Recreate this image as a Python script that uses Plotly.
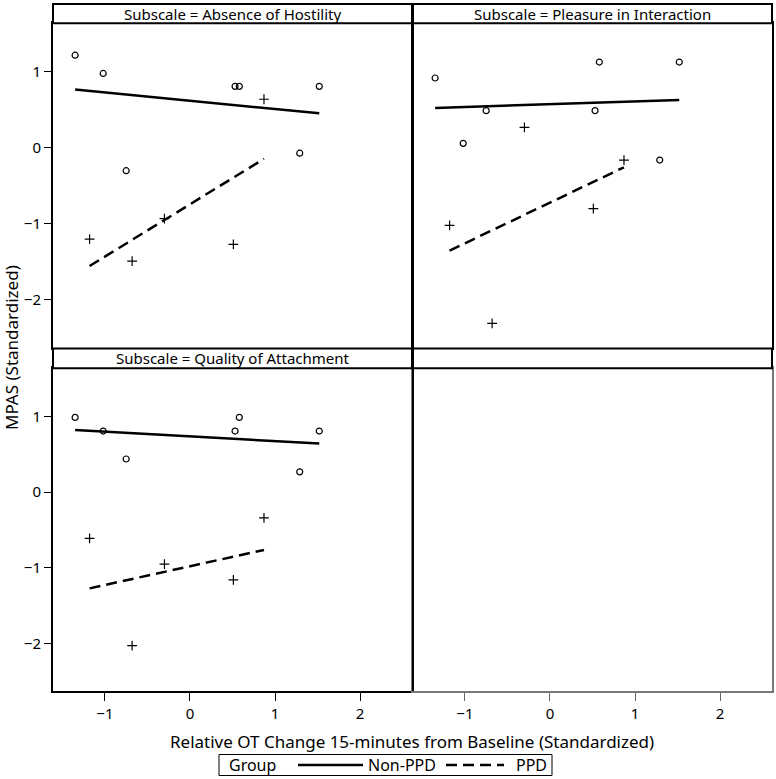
import numpy as np
import plotly.graph_objects as go

# ---------------- data ----------------
subscales = ["Absence of Hostility", "Pleasure in Interaction", "Quality of Attachment"]
groups = ["Non-PPD", "PPD"]

nonppd_x = [-1.35, -1.02, -0.75, 0.53, 0.58, 1.29, 1.52]
ppd_x = [-1.18, -0.68, -0.30, 0.51, 0.87]

nonppd_hostility = [1.22, 0.98, -0.30, 0.81, 0.81, -0.07, 0.81]
ppd_hostility = [-1.20, -1.49, -0.93, -1.27, 0.64]

nonppd_pleasure = [0.92, 0.06, 0.49, 0.49, 1.13, -0.16, 1.13]
ppd_pleasure = [-1.02, -2.31, 0.27, -0.80, -0.16]

nonppd_attach = [0.99, 0.81, 0.44, 0.81, 0.99, 0.27, 0.81]
ppd_attach = [-0.61, -2.03, -0.95, -1.16, -0.34]

y_ticks = [-2, -1, 0, 1]
x_ticks = [-1, 0, 1, 2]

W, H = 776, 779
FONT = "Noto Sans"
DASH = "11px,6px"
LW = 2.5

def px(v):
    return v / W

def py(v):
    return 1 - v / H

fig = go.Figure()

panels = [
    ("x", "y", nonppd_hostility, ppd_hostility),
    ("x2", "y2", nonppd_pleasure, ppd_pleasure),
    ("x3", "y3", nonppd_attach, ppd_attach),
]

def fit(xs, ys):
    xs = np.array(xs); ys = np.array(ys)
    b, a = np.polyfit(xs, ys, 1)
    xx = np.array([xs.min(), xs.max()])
    return xx, a + b * xx

for i, (xa, ya, ynon, yppd) in enumerate(panels):
    fig.add_trace(go.Scatter(x=nonppd_x, y=ynon, mode="markers", xaxis=xa, yaxis=ya,
                             marker=dict(symbol="circle-open", size=6, color="black",
                                         line=dict(width=1.2, color="black")),
                             name=groups[0], showlegend=False, hoverinfo="skip"))
    fig.add_trace(go.Scatter(x=ppd_x, y=yppd, mode="markers", xaxis=xa, yaxis=ya,
                             marker=dict(symbol="cross-thin", size=7, color="black",
                                         line=dict(width=1.2, color="black")),
                             name=groups[1], showlegend=False, hoverinfo="skip"))
    lx, ly = fit(nonppd_x, ynon)
    fig.add_trace(go.Scatter(x=lx, y=ly, mode="lines", xaxis=xa, yaxis=ya,
                             line=dict(color="black", width=LW),
                             name=groups[0], showlegend=False))
    lx, ly = fit(ppd_x, yppd)
    fig.add_trace(go.Scatter(x=lx, y=ly, mode="lines", xaxis=xa, yaxis=ya,
                             line=dict(color="black", width=LW, dash=DASH),
                             name=groups[1], showlegend=False))

# empty fourth panel (keeps its axes drawn)
fig.add_trace(go.Scatter(x=[None], y=[None], xaxis="x4", yaxis="y4", mode="markers",
                         showlegend=False, hoverinfo="skip"))

# geometry (pixels)
L1, R1 = 53, 412
L2, R2 = 413, 772
T1, B1 = 23.3, 347.7
T3, B3 = 368.3, 691

xr = [-1.61, 2.61]
yr = [-2.63, 1.64]

axis_common = dict(showline=True, linecolor="black", linewidth=2, mirror=True,
                   showgrid=False, zeroline=False, range=xr)

tickfont = dict(family=FONT, size=15, color="black")

fig.update_layout(
    width=W, height=H,
    margin=dict(l=0, r=0, t=0, b=0),
    paper_bgcolor="white", plot_bgcolor="white",
    showlegend=False,
    xaxis=dict(axis_common, domain=[px(L1), px(R1)], anchor="y", showticklabels=False, ticks=""),
    xaxis2=dict(axis_common, domain=[px(L2), px(R2)], anchor="y2", showticklabels=False, ticks=""),
    xaxis3=dict(axis_common, domain=[px(L1), px(R1)], anchor="y3", tickvals=x_ticks,
                ticks="outside", ticklen=8, tickwidth=1, tickcolor="black", tickfont=tickfont),
    xaxis4=dict(axis_common, domain=[px(L2), px(R2)], anchor="y4", tickvals=x_ticks,
                ticks="outside", ticklen=8, tickwidth=1, tickcolor="#666", tickfont=tickfont,
                linecolor="#777"),
    yaxis=dict(showline=True, linecolor="black", linewidth=2, mirror=True, showgrid=False,
               zeroline=False, range=yr, domain=[py(B1), py(T1)], anchor="x",
               tickvals=y_ticks, ticks="outside", ticklen=7, tickwidth=1, tickcolor="black",
               tickfont=tickfont),
    yaxis2=dict(showline=True, linecolor="black", linewidth=2, mirror=True, showgrid=False,
                zeroline=False, range=yr, domain=[py(B1), py(T1)], anchor="x2",
                showticklabels=False, ticks=""),
    yaxis3=dict(showline=True, linecolor="black", linewidth=2, mirror=True, showgrid=False,
                zeroline=False, range=yr, domain=[py(B3), py(T3)], anchor="x3",
                tickvals=y_ticks, ticks="outside", ticklen=7, tickwidth=1, tickcolor="black",
                tickfont=tickfont),
    yaxis4=dict(showline=True, linecolor="#777", linewidth=2, mirror=True, showgrid=False,
                zeroline=False, range=yr, domain=[py(B3), py(T3)], anchor="x4",
                showticklabels=False, ticks=""),
)

# left edge of the empty panel is shared with the panel beside it
fig.add_shape(type="line", xref="paper", yref="paper", x0=px(L2), x1=px(L2),
              y0=py(B3), y1=py(T3), line=dict(color="black", width=2))

# header strips
headers = [
    (L1, R1, 4, T1, subscales[0]),
    (L2, R2, 4, T1, subscales[1]),
    (L1, R1, 348.5, T3, subscales[2]),
    (L2, R2, 348.5, T3, ""),
]
for x0, x1, y0, y1, txt in headers:
    fig.add_shape(type="rect", xref="paper", yref="paper",
                  x0=px(x0), x1=px(x1), y0=py(y1), y1=py(y0),
                  line=dict(color="black", width=2), fillcolor="white", layer="above")
    if txt:
        fig.add_annotation(xref="paper", yref="paper", x=px((x0 + x1) / 2), y=py((y0 + y1) / 2),
                           text="Subscale = " + txt, showarrow=False,
                           xanchor="center", yanchor="middle",
                           font=dict(family=FONT, size=15, color="black"))

# axis titles
fig.add_annotation(xref="paper", yref="paper", x=px(11), y=py(348), textangle=-90,
                   text="MPAS (Standardized)", showarrow=False,
                   xanchor="center", yanchor="middle",
                   font=dict(family=FONT, size=17, color="black"))
fig.add_annotation(xref="paper", yref="paper", x=px(412), y=py(741),
                   text="Relative OT Change 15-minutes from Baseline (Standardized)",
                   showarrow=False, xanchor="center", yanchor="middle",
                   font=dict(family=FONT, size=17, color="black"))

# legend
LG_T, LG_B, LG_L, LG_R = 754.5, 775.5, 219, 552
LG_Y = (LG_T + LG_B) / 2
fig.add_shape(type="rect", xref="paper", yref="paper", x0=px(LG_L), x1=px(LG_R),
              y0=py(LG_B), y1=py(LG_T), line=dict(color="black", width=1), fillcolor="white")
legend_texts = [("Group", 227), (groups[0], 366), (groups[1], 514)]
for txt, xl in legend_texts:
    fig.add_annotation(xref="paper", yref="paper", x=px(xl), y=py(LG_Y), text=txt,
                       showarrow=False, xanchor="left", yanchor="middle",
                       font=dict(family=FONT, size=16, color="black"))
fig.add_shape(type="line", xref="paper", yref="paper", x0=px(298), x1=px(363),
              y0=py(LG_Y), y1=py(LG_Y), line=dict(color="black", width=LW))
fig.add_shape(type="line", xref="paper", yref="paper", x0=px(446), x1=px(504),
              y0=py(LG_Y), y1=py(LG_Y), line=dict(color="black", width=LW, dash=DASH))

fig.write_html("out.html")
